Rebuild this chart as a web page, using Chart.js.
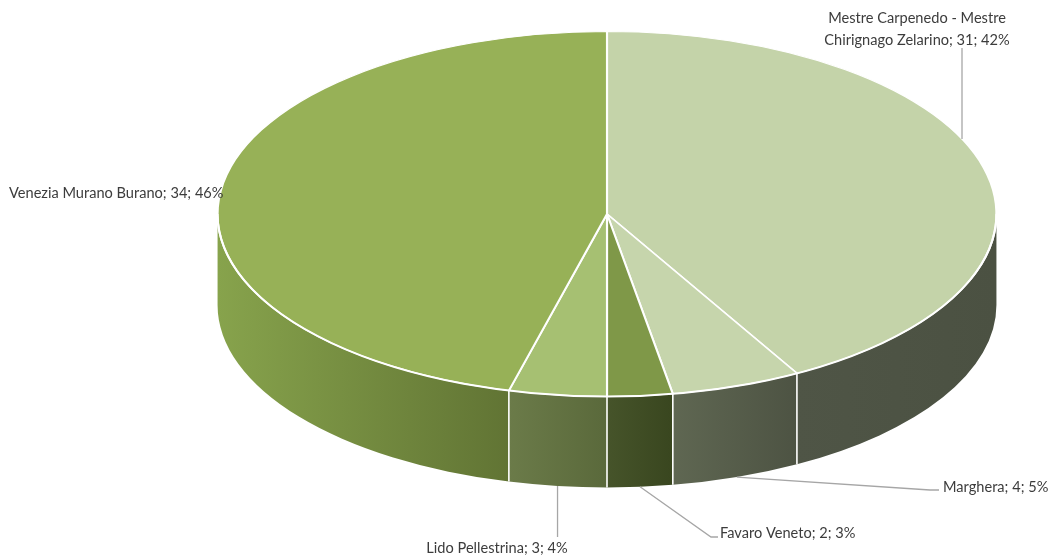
<!DOCTYPE html>
<html>
<head>
<meta charset="utf-8">
<script src="https://cdn.jsdelivr.net/npm/chart.js@4.4.1/dist/chart.umd.min.js"></script>
<style>
  html, body { margin: 0; padding: 0; background: #ffffff; }
  canvas { display: block; }
</style>
</head>
<body>
<canvas id="pie" width="1050" height="555"></canvas>
<script>
// Data
const categories = [
  'Mestre Carpenedo - Mestre Chirignago Zelarino',
  'Marghera',
  'Favaro Veneto',
  'Lido Pellestrina',
  'Venezia Murano Burano'
];
const counts = [31, 4, 2, 3, 34];

// Top-face colours and the two ends of each side-wall gradient (left -> right)
const topColors  = ['#c4d3a9', '#c6d5ac', '#7f9848', '#a6c072', '#97b157'];
const wallLeft   = ['#4f5546', '#5f6752', '#46542a', '#6b7b49', '#87a34c'];
const wallRight  = ['#4b5142', '#4d5343', '#39461f', '#5a693b', '#617434'];

// Disc geometry: Chart.js lays out a circle, the disc is stretched sideways
const STRETCH_X = 390.5 / 183;   // horizontal radius / vertical radius
const DEPTH = 91;                // height of the side wall in px

// Label placement: text anchor, alignment, optional wrap width and leader
const labelLayout = [
  { x: 917, y: 18, align: 'center', wrap: 212, leader: 'top', lx: 962, ly: 48 },
  { x: 943, y: 487, align: 'left', leader: 'wall', ex: 930, ey: 490, tx: 939 },
  { x: 720, y: 533, align: 'left', leader: 'wall', ex: 711, ey: 537, tx: 718 },
  { x: 497, y: 548, align: 'center', leader: 'down', ey: 537 },
  { x: 9,   y: 193, align: 'left' }
];

const total = counts.reduce((a, b) => a + b, 0);
const labelText = counts.map((v, i) => `${categories[i]}; ${v}; ${Math.round(v / total * 100)}%`);

function discGeometry(chart) {
  const arc = chart.getDatasetMeta(0).data[0];
  return { X: arc.x, Y: arc.y, RX: arc.outerRadius * STRETCH_X, RY: arc.outerRadius };
}

function wrapLines(ctx, text, maxWidth) {
  if (!maxWidth) return [text];
  const words = text.split(' ');
  const lines = [];
  let cur = '';
  for (const w of words) {
    const test = cur ? cur + ' ' + w : w;
    if (cur && ctx.measureText(test).width > maxWidth) {
      lines.push(cur);
      cur = w;
    } else {
      cur = test;
    }
  }
  if (cur) lines.push(cur);
  return lines;
}

const pie3d = {
  id: 'pie3d',
  beforeDatasetsDraw(chart) {
    const ctx = chart.ctx;
    const meta = chart.getDatasetMeta(0);
    const { X, Y, RX, RY } = discGeometry(chart);

    // front side wall, one segment per slice
    meta.data.forEach((arc, i) => {
      const a1 = Math.max(arc.startAngle, 0);
      const a2 = Math.min(arc.endAngle, Math.PI);
      if (a2 <= a1) return;
      const xl = X + RX * Math.cos(a2);
      const xr = X + RX * Math.cos(a1);
      const g = ctx.createLinearGradient(xl, 0, xr, 0);
      g.addColorStop(0, wallLeft[i]);
      g.addColorStop(1, wallRight[i]);
      ctx.beginPath();
      ctx.ellipse(X, Y, RX, RY, 0, a1, a2, false);
      ctx.ellipse(X, Y + DEPTH, RX, RY, 0, a2, a1, true);
      ctx.closePath();
      ctx.fillStyle = g;
      ctx.fill();
    });

    // white seams between wall segments
    ctx.save();
    ctx.strokeStyle = '#ffffff';
    ctx.lineWidth = 1.6;
    meta.data.forEach((arc) => {
      const a = arc.endAngle;
      if (a > 0 && a < Math.PI) {
        const x = X + RX * Math.cos(a);
        const y = Y + RY * Math.sin(a);
        ctx.beginPath();
        ctx.moveTo(x, y);
        ctx.lineTo(x, y + DEPTH);
        ctx.stroke();
      }
    });
    ctx.restore();

    // stretch the Chart.js circle into the tilted disc
    ctx.save();
    ctx.translate(X, Y);
    ctx.scale(STRETCH_X, 1);
    ctx.translate(-X, -Y);
  },
  afterDatasetsDraw(chart) {
    const ctx = chart.ctx;
    ctx.restore();
    const meta = chart.getDatasetMeta(0);
    const { X, Y, RX, RY } = discGeometry(chart);

    // crisp rim along the front edge of the top face
    ctx.save();
    ctx.strokeStyle = '#ffffff';
    ctx.lineWidth = 2;
    ctx.beginPath();
    ctx.ellipse(X, Y, RX, RY, 0, 0, Math.PI, false);
    ctx.stroke();
    ctx.restore();

    // data labels with leader lines
    ctx.save();
    ctx.font = '14.6px Lato, "Open Sans", sans-serif';
    ctx.fillStyle = '#3c3c3c';
    ctx.textBaseline = 'middle';
    ctx.strokeStyle = '#a6a6a6';
    ctx.lineWidth = 1.3;
    meta.data.forEach((arc, i) => {
      const L = labelLayout[i];
      const mid = (arc.startAngle + arc.endAngle) / 2;
      if (L.leader === 'top') {
        const dx = (L.lx - X) / RX;
        const yEdge = Y - RY * Math.sqrt(Math.max(0, 1 - dx * dx));
        ctx.beginPath();
        ctx.moveTo(L.lx, L.ly);
        ctx.lineTo(L.lx, yEdge);
        ctx.stroke();
      } else if (L.leader === 'wall') {
        const sx = X + RX * Math.cos(mid);
        const sy = Y + DEPTH + RY * Math.sin(mid);
        ctx.beginPath();
        ctx.moveTo(sx, sy);
        ctx.lineTo(L.ex, L.ey);
        ctx.lineTo(L.tx, L.ey);
        ctx.stroke();
      } else if (L.leader === 'down') {
        const sx = X + RX * Math.cos(mid);
        const sy = Y + DEPTH + RY * Math.sin(mid);
        ctx.beginPath();
        ctx.moveTo(sx, sy);
        ctx.lineTo(sx, L.ey);
        ctx.stroke();
      }
      ctx.textAlign = L.align;
      const lines = wrapLines(ctx, labelText[i], L.wrap);
      lines.forEach((line, k) => ctx.fillText(line, L.x, L.y + k * 22));
    });
    ctx.restore();
  }
};

new Chart(document.getElementById('pie'), {
  type: 'pie',
  data: {
    labels: categories,
    datasets: [{
      data: counts,
      backgroundColor: topColors,
      borderColor: '#ffffff',
      borderWidth: 1,
      clip: false
    }]
  },
  options: {
    responsive: false,
    animation: false,
    devicePixelRatio: 1,
    events: [],
    layout: { padding: { left: 424, right: 260, top: 31, bottom: 158 } },
    plugins: {
      legend: { display: false },
      tooltip: { enabled: false }
    }
  },
  plugins: [pie3d]
});
</script>
</body>
</html>
